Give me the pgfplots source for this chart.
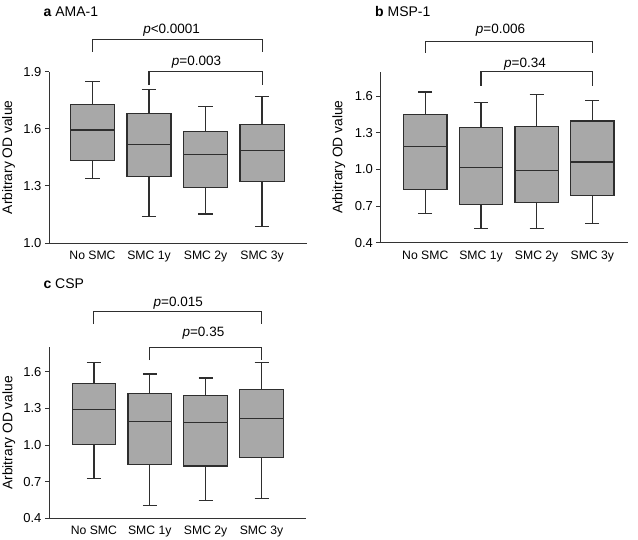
\documentclass[border=0pt]{standalone}
\usepackage{fontspec}
\setmainfont{Liberation Sans}
\usepackage{pgfplots}
\pgfplotsset{compat=1.18}
\usepgfplotslibrary{statistics}
\definecolor{boxfill}{HTML}{A8A8A8}
\definecolor{boxline}{HTML}{2E2E2E}
\definecolor{axisline}{HTML}{333333}

\pgfplotsset{
  smcpanel/.style={
    scale only axis,
    clip=false,
    axis x line*=bottom,
    axis y line*=left,
    axis line style={axisline, line width=0.9pt},
    tick align=outside,
    major tick length=4.3pt,
    xtick={1,2,3,4},
    xticklabels={No SMC, SMC 1y, SMC 2y, SMC 3y},
    x tick style={draw=none},
    y tick style={axisline, line width=0.9pt},
    /pgf/number format/assume math mode=true,
    yticklabel style={font=\fontsize{13}{15}\selectfont,
      /pgf/number format/fixed,
      /pgf/number format/fixed zerofill,
      /pgf/number format/precision=1},
    xticklabel style={font=\fontsize{12.2}{14}\selectfont},
    ylabel={Arbitrary OD value},
    boxplot/draw direction=y,
    boxplot/box extend=0.78,
    boxplot/whisker extend=0.25,
  },
  smcbox/.style={fill=boxfill, draw=boxline, line width=1.2pt, solid},
}
\tikzset{
  bracket/.style={draw=boxline, line width=1.1pt},
  ptext/.style={font=\fontsize{13.5}{16}\selectfont, anchor=base, inner sep=0pt},
  paneltitle/.style={font=\fontsize{14}{16}\selectfont, anchor=base west, inner sep=0pt},
}

\begin{document}
\begin{tikzpicture}
\useasboundingbox (0pt,-540pt) rectangle (638pt,0pt);

% a  AMA-1
\begin{axis}[smcpanel,
  at={(49.3pt,-243pt)}, anchor=south west,
  width=257.4pt, height=171.3pt,
  xmin=0.236, xmax=4.789, ymin=1.0, ymax=1.9,
  ytick={1.0,1.3,1.6,1.9},
  ylabel style={font=\fontsize{13.8}{16}\selectfont, anchor=center, at={(axis description cs:-0.158,0.5)}},
]
  \addplot[smcbox, boxplot prepared={draw position=1, lower whisker=1.337, lower quartile=1.433, median=1.594, upper quartile=1.729, upper whisker=1.848}] coordinates {};
  \addplot[smcbox, boxplot prepared={draw position=2, lower whisker=1.140, lower quartile=1.348, median=1.519, upper quartile=1.682, upper whisker=1.807}] coordinates {};
  \addplot[smcbox, boxplot prepared={draw position=3, lower whisker=1.152, lower quartile=1.292, median=1.463, upper quartile=1.585, upper whisker=1.717}] coordinates {};
  \addplot[smcbox, boxplot prepared={draw position=4, lower whisker=1.088, lower quartile=1.323, median=1.484, upper quartile=1.624, upper whisker=1.769}] coordinates {};
  \draw[bracket] (axis cs:1,2.005) -- (axis cs:1,2.07) -- (axis cs:4,2.07) -- (axis cs:4,2.005);
  \draw[bracket] (axis cs:2,1.83) -- (axis cs:2,1.9) -- (axis cs:4,1.9) -- (axis cs:4,1.83);
  \node[ptext] at (axis cs:2.40,2.101) {\textit{p}<0.0001};
  \node[ptext] at (axis cs:2.84,1.931) {\textit{p}=0.003};
\end{axis}

% b  MSP-1
\begin{axis}[smcpanel,
  at={(380.7pt,-242.7pt)}, anchor=south west,
  width=247.3pt, height=171pt,
  xmin=0.199, xmax=4.641, ymin=0.4, ymax=1.8,
  ytick={0.4,0.7,1.0,1.3,1.6},
  ylabel style={font=\fontsize{13.8}{16}\selectfont, anchor=center, at={(axis description cs:-0.169,0.5)}},
]
  \addplot[smcbox, boxplot prepared={draw position=1, lower whisker=0.640, lower quartile=0.835, median=1.189, upper quartile=1.450, upper whisker=1.633}] coordinates {};
  \addplot[smcbox, boxplot prepared={draw position=2, lower whisker=0.517, lower quartile=0.713, median=1.015, upper quartile=1.344, upper whisker=1.551}] coordinates {};
  \addplot[smcbox, boxplot prepared={draw position=3, lower whisker=0.517, lower quartile=0.729, median=0.990, upper quartile=1.352, upper whisker=1.616}] coordinates {};
  \addplot[smcbox, boxplot prepared={draw position=4, lower whisker=0.558, lower quartile=0.784, median=1.061, upper quartile=1.396, upper whisker=1.562}] coordinates {};
  \draw[bracket] (axis cs:1,1.954) -- (axis cs:1,2.049) -- (axis cs:4,2.049) -- (axis cs:4,1.954);
  \draw[bracket] (axis cs:2,1.687) -- (axis cs:2,1.8) -- (axis cs:4,1.8) -- (axis cs:4,1.687);
  \node[ptext] at (axis cs:2.35,2.109) {\textit{p}=0.006};
  \node[ptext] at (axis cs:2.79,1.837) {\textit{p}=0.34};
\end{axis}

% c  CSP
\begin{axis}[smcpanel,
  at={(49.3pt,-518.3pt)}, anchor=south west,
  width=256.7pt, height=171pt,
  xmin=0.201, xmax=4.796, ymin=0.4, ymax=1.8,
  ytick={0.4,0.7,1.0,1.3,1.6},
  ylabel style={font=\fontsize{13.8}{16}\selectfont, anchor=center, at={(axis description cs:-0.158,0.5)}},
]
  \addplot[smcbox, boxplot prepared={draw position=1, lower whisker=0.727, lower quartile=1.005, median=1.292, upper quartile=1.502, upper whisker=1.676}] coordinates {};
  \addplot[smcbox, boxplot prepared={draw position=2, lower whisker=0.506, lower quartile=0.842, median=1.194, upper quartile=1.425, upper whisker=1.581}] coordinates {};
  \addplot[smcbox, boxplot prepared={draw position=3, lower whisker=0.545, lower quartile=0.828, median=1.185, upper quartile=1.404, upper whisker=1.548}] coordinates {};
  \addplot[smcbox, boxplot prepared={draw position=4, lower whisker=0.564, lower quartile=0.899, median=1.215, upper quartile=1.455, upper whisker=1.676}] coordinates {};
  \draw[bracket] (axis cs:1,1.990) -- (axis cs:1,2.091) -- (axis cs:4,2.091) -- (axis cs:4,1.990);
  \draw[bracket] (axis cs:2,1.696) -- (axis cs:2,1.8) -- (axis cs:4,1.8) -- (axis cs:4,1.696);
  \node[ptext] at (axis cs:2.51,2.138) {\textit{p}=0.015};
  \node[ptext] at (axis cs:2.96,1.887) {\textit{p}=0.35};
\end{axis}

\node[paneltitle] at (43.3pt,-16.7pt) {\textbf{a} AMA-1};
\node[paneltitle] at (375pt,-16.7pt) {\textbf{b} MSP-1};
\node[paneltitle] at (43.3pt,-289pt) {\textbf{c} CSP};
\end{tikzpicture}
\end{document}
